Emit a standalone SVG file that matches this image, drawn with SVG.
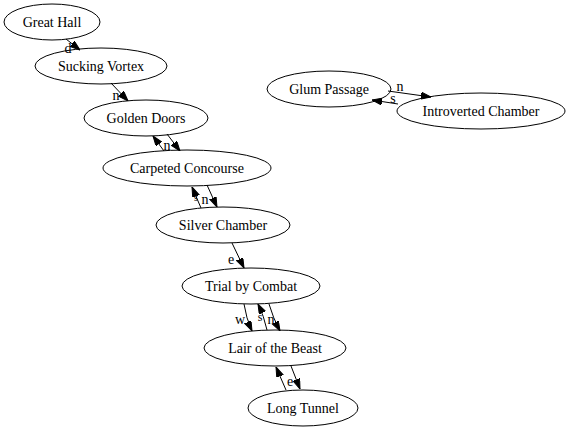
<svg xmlns="http://www.w3.org/2000/svg" width="569" height="430" viewBox="0 0 569 430">
<defs>
<style>
.node ellipse{fill:none;stroke:#000;stroke-width:1}
text{font-family:"Liberation Serif","Times New Roman",serif;font-size:14px;fill:#000;text-anchor:middle}
.edges path{fill:none;stroke:#000;stroke-width:1;marker-end:url(#ah)}
</style>
<marker id="ah" markerUnits="userSpaceOnUse" markerWidth="10" markerHeight="8" refX="10" refY="3.5" orient="auto">
<path d="M0,0 L10,3.5 L0,7 z" fill="#000" stroke="#000" stroke-width="1"/>
</marker>
</defs>
<rect width="569" height="430" fill="#fff"/>
<g id="n_great_hall" class="node"><ellipse cx="52" cy="22" rx="48" ry="18"/><text x="52" y="27">Great Hall</text></g>
<g id="n_sucking_vortex" class="node"><ellipse cx="101" cy="66" rx="66" ry="18"/><text x="101" y="71">Sucking Vortex</text></g>
<g id="n_golden_doors" class="node"><ellipse cx="146" cy="118" rx="62" ry="18"/><text x="146" y="123">Golden Doors</text></g>
<g id="n_carpeted_concourse" class="node"><ellipse cx="187" cy="168" rx="84" ry="18"/><text x="187" y="173">Carpeted Concourse</text></g>
<g id="n_silver_chamber" class="node"><ellipse cx="223" cy="225" rx="67" ry="18"/><text x="223" y="230">Silver Chamber</text></g>
<g id="n_trial_by_combat" class="node"><ellipse cx="251" cy="286" rx="69" ry="18"/><text x="251" y="291">Trial by Combat</text></g>
<g id="n_lair_of_the_beast" class="node"><ellipse cx="275" cy="348" rx="71" ry="18"/><text x="275" y="353">Lair of the Beast</text></g>
<g id="n_long_tunnel" class="node"><ellipse cx="303" cy="408" rx="55" ry="18"/><text x="303" y="413">Long Tunnel</text></g>
<g id="n_glum_passage" class="node"><ellipse cx="329" cy="89" rx="62" ry="18"/><text x="329" y="94">Glum Passage</text></g>
<g id="n_introverted_chamber" class="node"><ellipse cx="481" cy="111" rx="84" ry="18"/><text x="481" y="116">Introverted Chamber</text></g>
<g id="connectors" class="edges">
<path d="M66,39 L80,50"/>
<text x="68" y="53">d</text>
<path d="M111,83 L128,101"/>
<text x="116" y="100">n</text>
<path d="M164,151 L153,136"/>
<path d="M167,134 L180,151"/>
<text x="167" y="150">n</text>
<path d="M201,208 L192,187"/>
<path d="M207,185 L217,207"/>
<text x="196" y="201" style="font-size:10px">s</text>
<text x="205" y="204">n</text>
<path d="M232,243 L244,268"/>
<text x="231" y="264">e</text>
<path d="M244,304 Q246,318 252,331"/>
<text x="240" y="324">w</text>
<path d="M267,330 Q264,316 258,304"/>
<text x="260" y="321" style="font-size:12px">s</text>
<path d="M269,304 Q273,318 280,331"/>
<text x="271" y="324">n</text>
<path d="M286,390 L276,367"/>
<path d="M291,366 L300,389"/>
<text x="290" y="386">e</text>
<path d="M388,91 L431,97"/>
<text x="400" y="91">n</text>
<path d="M398,104 L372,100"/>
<text x="393" y="103">s</text>
</g>
</svg>
